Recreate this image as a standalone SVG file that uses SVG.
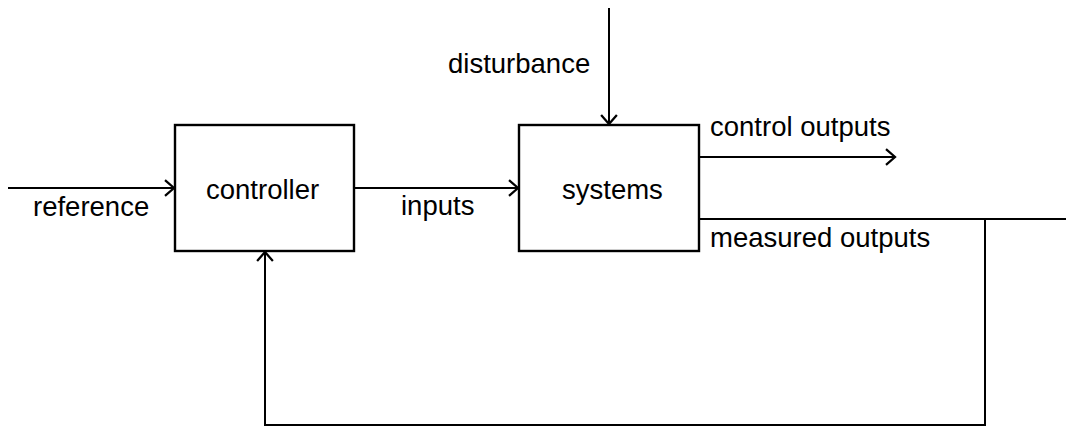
<svg xmlns="http://www.w3.org/2000/svg" width="1066" height="427" viewBox="0 0 1066 427">
<style>
.box{fill:#fff;stroke:#000;stroke-width:2.4}
.ln{fill:none;stroke:#000;stroke-width:2}
text{font-family:"Liberation Sans",Arial,sans-serif;font-size:27.5px;fill:#000}
</style>
<defs>
<marker id="arr" markerUnits="userSpaceOnUse" markerWidth="14" markerHeight="18" viewBox="-10 -8 12 16" refX="0" refY="0" orient="auto">
<path d="M-8,-7 L0,0 L-8,7" fill="none" stroke="#000" stroke-width="2"/>
</marker>
</defs>
<g id="connectors">
<line class="ln" x1="8" y1="188" x2="174" y2="188" marker-end="url(#arr)"/>
<line class="ln" x1="354" y1="188" x2="518" y2="188" marker-end="url(#arr)"/>
<line class="ln" x1="609" y1="8" x2="609" y2="124" marker-end="url(#arr)"/>
<line class="ln" x1="699" y1="157" x2="895" y2="157" marker-end="url(#arr)"/>
<line class="ln" x1="699" y1="219" x2="1066" y2="219"/>
<polyline class="ln" points="985,219 985,425 265,425 265,252" marker-end="url(#arr)"/>
</g>
<g id="controller">
<rect class="box" x="175" y="125" width="179" height="126"/>
<text x="206" y="199">controller</text>
</g>
<g id="systems">
<rect class="box" x="519" y="125" width="180" height="126"/>
<text x="562" y="199">systems</text>
</g>
<g id="labels">
<text x="33" y="216">reference</text>
<text x="401" y="215">inputs</text>
<text x="448" y="73">disturbance</text>
<text x="710" y="136">control outputs</text>
<text x="710" y="247">measured outputs</text>
</g>
</svg>
